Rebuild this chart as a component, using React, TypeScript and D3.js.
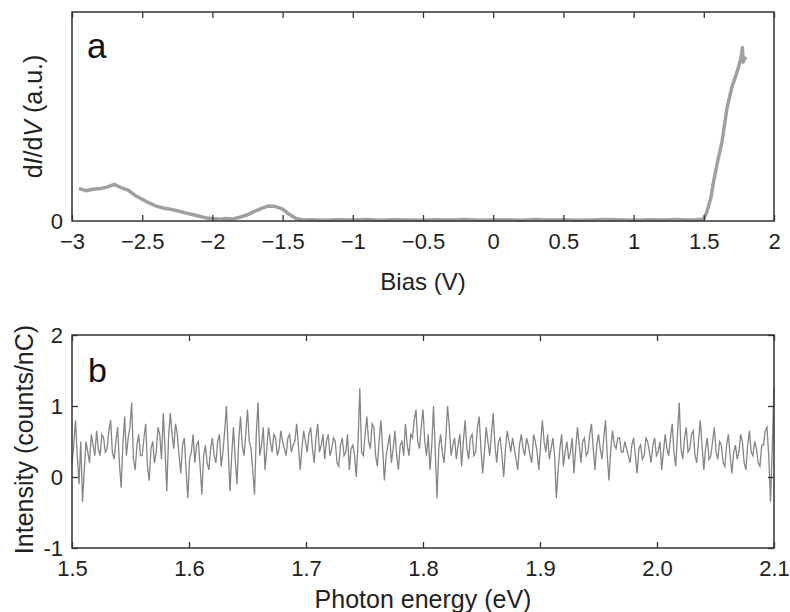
import React, { useEffect, useRef } from 'react'
import * as d3 from 'd3'

// panel a: tunnelling spectrum
const biasV = [-2.95, -2.9, -2.85, -2.8, -2.75, -2.7, -2.65, -2.6, -2.55, -2.5, -2.45, -2.4, -2.35, -2.3, -2.25, -2.2, -2.15, -2.1, -2.05, -2, -1.95, -1.9, -1.85, -1.8, -1.75, -1.7, -1.65, -1.6, -1.55, -1.5, -1.45, -1.4, -1.35, -1.3,
  -1.2, -1.1, -1, -0.9, -0.8, -0.7, -0.6, -0.5, -0.4, -0.3, -0.2, -0.1, 0, 0.1, 0.2, 0.3, 0.4, 0.5, 0.6, 0.7, 0.8, 0.9, 1, 1.1, 1.2, 1.3, 1.4,
  1.45, 1.5, 1.52, 1.55, 1.57, 1.6, 1.63, 1.665, 1.7, 1.72, 1.745, 1.76, 1.77, 1.775, 1.78, 1.79, 1.8]
const didv = [0.155, 0.145, 0.152, 0.155, 0.162, 0.175, 0.16, 0.148, 0.122, 0.104, 0.086, 0.071, 0.062, 0.056, 0.049, 0.04, 0.032, 0.024, 0.016, 0.011, 0.009, 0.012, 0.01, 0.019, 0.03, 0.046, 0.06, 0.072, 0.069, 0.057, 0.031, 0.011, 0.005, 0.006,
  0.004, 0.006, 0.005, 0.007, 0.004, 0.006, 0.005, 0.003, 0.006, 0.005, 0.007, 0.004, 0.005, 0.006, 0.004, 0.007, 0.005, 0.006, 0.004, 0.005, 0.007, 0.006, 0.004, 0.006, 0.005, 0.007, 0.005,
  0.006, 0.01, 0.04, 0.11, 0.19, 0.29, 0.38, 0.54, 0.64, 0.68, 0.73, 0.77, 0.8, 0.83, 0.76, 0.78, 0.77]
const biasTicks = [-3, -2.5, -2, -1.5, -1, -0.5, 0, 0.5, 1, 1.5, 2]

// panel b: light emission spectrum, one value every 1.5 meV from 1.5 eV
const photonStart = 1.5
const photonStep = 0.0015
const intensity = [
  0.2, 0.45, 0.8, 0.3, -0.1, 0.5, -0.35, 0.1, 0.5, 0.35, 0.2, 0.6, 0.45, 0.3, 0.65, 0.4, 0.3, 0.6, 0.55, 0.35,
  0.4, 0.65, 0.8, 0.35, 0.25, 0.5, 0.7, 0.2, -0.15, 0.45, 0.85, 0.3, 0.55, 0.7, 1.05, 0.25, 0.1, 0.45, 0.6, 0.3,
  0.3, 0.55, 0.75, 0.15, -0.05, 0.4, 0.5, 0.2, 0.35, 0.7, 0.6, 0.25, 0.9, 0.4, -0.2, 0.55, 0.9, 0.6, 0.4, 0.75,
  0.6, 0.3, 0.05, 0.45, 0.55, 0.1, -0.3, 0.25, 0.35, 0.6, 0.2, 0.45, 0.5, 0.15, -0.25, 0.3, 0.45, 0.2, 0.1, 0.4,
  0.55, 0.3, 0.2, 0.5, 0.6, 0.15, 0.35, 0.65, 1.0, 0.4, -0.2, 0.3, 0.7, 0.25, -0.1, 0.5, 0.85, 0.45, 0.3, 0.6,
  0.95, 0.5, 0.4, 0.1, -0.25, 0.6, 1.05, 0.3, 0.45, 0.7, 0.1, 0.4, 0.7, 0.5, 0.35, 0.6, 0.55, 0.3, 0.4, 0.65,
  0.5, 0.4, 0.3, 0.55, 0.6, 0.35, 0.45, 0.5, 0.75, 0.45, 0.1, 0.4, 0.65, 0.5, 0.35, 0.6, 0.7, 0.4, 0.2, 0.55,
  0.75, 0.35, 0.45, 0.6, 0.25, 0.5, 0.6, 0.3, 0.4, 0.55, 0.5, 0.2, 0.15, 0.45, 0.55, 0.3, 0.35, 0.6, 0.1, 0.4,
  0.45, 0.3, 0.0, 0.5, 1.25, 0.35, 0.3, 0.6, 0.85, 0.5, 0.4, 0.75, 0.7, 0.3, 0.15, 0.5, 0.8, 0.4, -0.05, 0.3,
  0.45, 0.6, 0.2, 0.4, 0.65, 0.3, 0.1, 0.45, 0.5, 0.3, 0.75, 0.45, 0.3, 0.6, 0.55, 0.8, 0.95, 0.5, 0.4, 0.7,
  0.95, 0.5, 0.3, 0.6, 0.1, 0.45, 1.0, 0.35, -0.3, 0.4, 0.6, 0.35, 0.2, 0.55, 1.0, 0.7, 0.3, 0.45, 0.55, 0.25,
  0.45, 0.6, 0.15, 0.5, 0.8, 0.4, 0.25, 0.55, 0.6, 0.3, 0.35, 0.7, 0.85, 0.4, 0.05, 0.35, 0.7, 0.5, 0.3, 0.6,
  0.9, 0.45, 0.2, 0.5, 0.55, 0.3, 0.0, 0.4, 0.65, 0.5, 0.35, 0.55, 0.4, 0.25, 0.1, 0.45, 0.6, 0.4, 0.3, 0.55,
  0.45, 0.3, 0.2, 0.6, 0.5, 0.35, 0.1, 0.45, 0.8, 0.5, 0.35, 0.6, 0.25, 0.4, 0.55, 0.3, -0.3, 0.1, 0.4, 0.6,
  0.15, 0.35, 0.5, 0.25, 0.35, 0.55, 0.05, 0.4, 0.7, 0.45, 0.2, 0.5, 0.55, 0.3, 0.35, 0.6, 0.75, 0.4, 0.1, 0.45,
  0.6, 0.4, 0.25, 0.55, 0.8, 0.3, -0.05, 0.4, 0.65, 0.45, 0.4, 0.55, 0.55, 0.35, 0.35, 0.5, 0.4, 0.3, 0.2, 0.45,
  0.55, 0.3, 0.05, 0.4, 0.45, 0.25, 0.3, 0.55, 0.5, 0.35, 0.2, 0.45, 0.55, 0.3, 0.35, 0.5, 0.1, 0.35, 0.6, 0.4,
  0.3, 0.55, 0.75, 0.35, 0.15, 0.6, 1.05, 0.4, 0.25, 0.55, 0.7, 0.35, 0.4, 0.6, 0.65, 0.3, 0.2, 0.5, 0.8, 0.45,
  0.1, 0.4, 0.55, 0.25, 0.3, 0.5, 0.7, 0.35, 0.25, 0.5, 0.45, 0.2, 0.15, 0.45, 0.6, 0.3, 0.05, 0.35, 0.45, 0.25,
  0.35, 0.6, 0.5, 0.2, 0.1, 0.45, 0.65, 0.35, 0.3, 0.5, 0.4, 0.2, 0.15, 0.45, 0.45, 0.65, 0.7, 0.3, -0.35, 0.4,
  1.25]
const photonTicks = [1.5, 1.6, 1.7, 1.8, 1.9, 2.0, 2.1]
const intensityTicks = [-1, 0, 1, 2]

const W = 790
const H = 612
const left = 72
const right = 774
const aTop = 12
const aBottom = 221
const bTop = 335
const bBottom = 548
const FONT = '"Liberation Sans", Arial, sans-serif'

export default function App() {
  const svgRef = useRef<SVGSVGElement>(null)

  useEffect(() => {
    const svg = d3.select(svgRef.current)
    svg.selectAll('*').remove()

    const styleAxis = (g: any, size: number) => {
      g.select('.domain').remove()
      g.selectAll('line').attr('stroke', '#333').attr('stroke-width', 1.3)
      g.selectAll('text').attr('fill', '#222').style('font-family', FONT).style('font-size', size + 'px')
    }

    // ---- panel a ----
    const xa = d3.scaleLinear().domain([-3, 2]).range([left, right])
    const ya = d3.scaleLinear().domain([0, 1]).range([aBottom, aTop])

    svg.append('path')
      .datum(biasV.map((b, i) => [b, didv[i]]))
      .attr('d', d3.line().x(d => xa(d[0])).y(d => ya(d[1])))
      .attr('fill', 'none')
      .attr('stroke', '#a0a0a0')
      .attr('stroke-width', 3.5)
      .attr('stroke-linejoin', 'round')

    svg.append('g').attr('transform', `translate(0,${aBottom})`)
      .call(d3.axisBottom(xa).tickValues(biasTicks).tickSize(-6).tickPadding(12).tickFormat(d3.format('')))
      .call(styleAxis, 22)
    svg.append('g').attr('transform', `translate(0,${aTop})`)
      .call(d3.axisBottom(xa).tickValues(biasTicks).tickSize(6).tickFormat(() => ''))
      .call(styleAxis, 22)
    svg.append('g').attr('transform', `translate(${left},0)`)
      .call(d3.axisLeft(ya).tickValues([0]).tickSize(0).tickPadding(9).tickFormat(() => '0'))
      .call(styleAxis, 22)
    svg.append('rect')
      .attr('x', left).attr('y', aTop).attr('width', right - left).attr('height', aBottom - aTop)
      .attr('fill', 'none').attr('stroke', '#333').attr('stroke-width', 1.5)

    svg.append('text').attr('x', 87).attr('y', 58).text('a')
      .style('font-family', FONT).style('font-size', '35px').attr('fill', '#111')
    svg.append('text').attr('x', (left + right) / 2).attr('y', 290).attr('text-anchor', 'middle').text('Bias (V)')
      .style('font-family', FONT).style('font-size', '24px').attr('fill', '#222')
    const la = svg.append('text').attr('transform', `translate(42,${(aTop + aBottom) / 2}) rotate(-90)`)
      .attr('text-anchor', 'middle').style('font-family', FONT).style('font-size', '25px').attr('fill', '#222')
    la.append('tspan').text('d')
    la.append('tspan').text('I').style('font-style', 'italic')
    la.append('tspan').text('/d')
    la.append('tspan').text('V').style('font-style', 'italic')
    la.append('tspan').text(' (a.u.)')

    // ---- panel b ----
    const xb = d3.scaleLinear().domain([1.5, 2.1]).range([left, right])
    const yb = d3.scaleLinear().domain([-1, 2]).range([bBottom, bTop])

    svg.append('path')
      .datum(intensity.map((v, i) => [photonStart + i * photonStep, v]))
      .attr('d', d3.line().x(d => xb(d[0])).y(d => yb(d[1])))
      .attr('fill', 'none')
      .attr('stroke', '#858585')
      .attr('stroke-width', 1.3)

    svg.append('g').attr('transform', `translate(0,${bBottom})`)
      .call(d3.axisBottom(xb).tickValues(photonTicks).tickSize(-6).tickPadding(12).tickFormat(d3.format('.1f')))
      .call(styleAxis, 22)
    svg.append('g').attr('transform', `translate(0,${bTop})`)
      .call(d3.axisBottom(xb).tickValues(photonTicks).tickSize(6).tickFormat(() => ''))
      .call(styleAxis, 22)
    svg.append('g').attr('transform', `translate(${left},0)`)
      .call(d3.axisLeft(yb).tickValues(intensityTicks).tickSize(-6).tickPadding(9).tickFormat(d => String(d)))
      .call(styleAxis, 22)
    svg.append('g').attr('transform', `translate(${right},0)`)
      .call(d3.axisRight(yb).tickValues(intensityTicks).tickSize(-6).tickFormat(() => ''))
      .call(styleAxis, 22)
    svg.append('rect')
      .attr('x', left).attr('y', bTop).attr('width', right - left).attr('height', bBottom - bTop)
      .attr('fill', 'none').attr('stroke', '#333').attr('stroke-width', 1.5)

    svg.append('text').attr('x', 88).attr('y', 382).text('b')
      .style('font-family', FONT).style('font-size', '34px').attr('fill', '#111')
    svg.append('text').attr('x', (left + right) / 2).attr('y', 608).attr('text-anchor', 'middle').text('Photon energy (eV)')
      .style('font-family', FONT).style('font-size', '25px').attr('fill', '#222')
    svg.append('text').attr('transform', `translate(33,${(bTop + bBottom) / 2 - 2}) rotate(-90)`)
      .attr('text-anchor', 'middle').text('Intensity (counts/nC)')
      .style('font-family', FONT).style('font-size', '25px').attr('fill', '#222')
  }, [])

  return (
    <svg ref={svgRef} width={W} height={H}
      style={{ position: 'absolute', left: 0, top: 0, background: '#fff' }} />
  )
}
